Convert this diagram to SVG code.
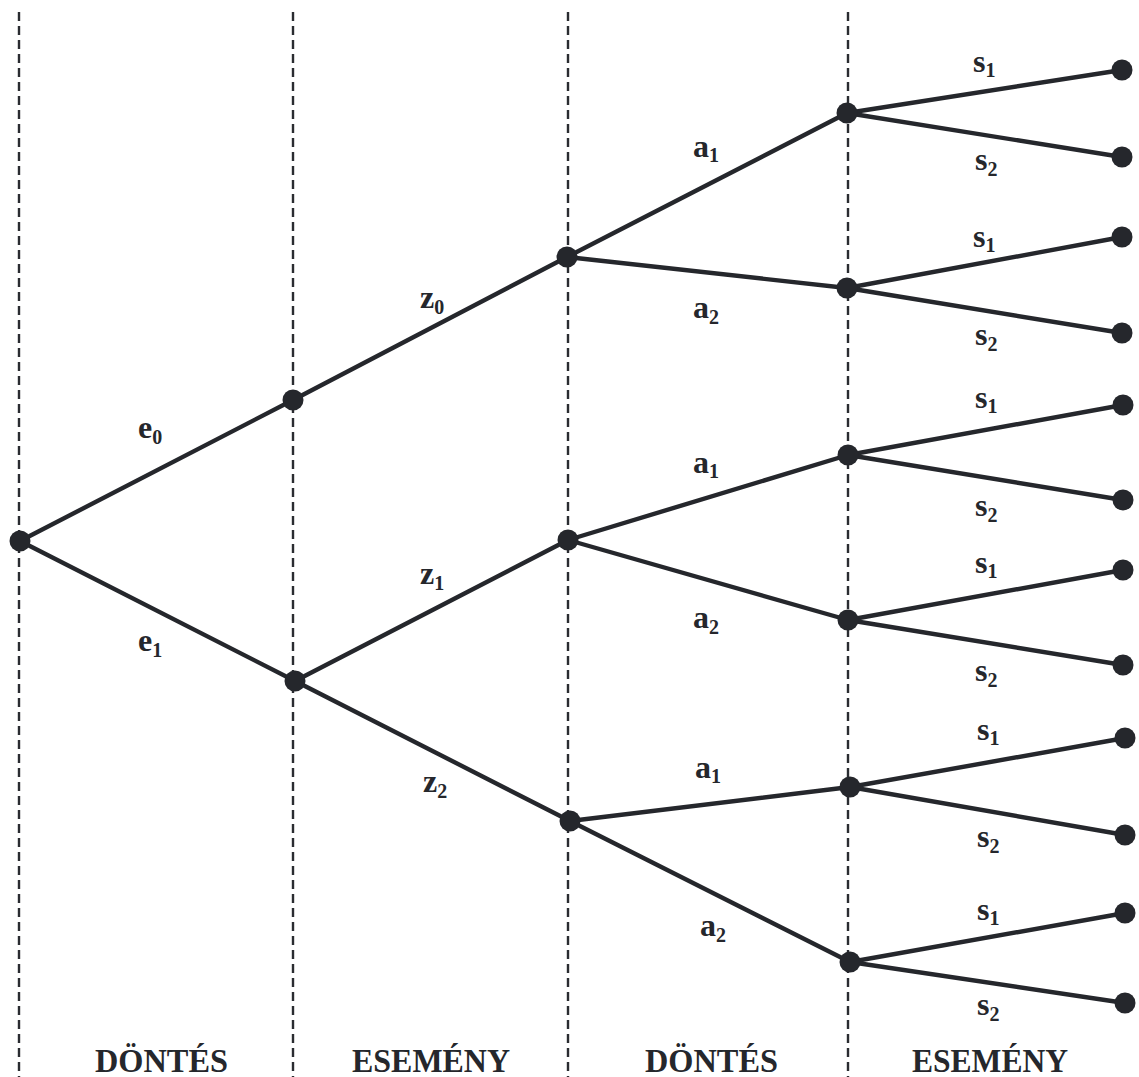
<svg xmlns="http://www.w3.org/2000/svg" width="1139" height="1077" viewBox="0 0 1139 1077">
<style>
.grid{stroke:#2a2c31;stroke-width:2.4;stroke-dasharray:9,5;fill:none}
.edge{stroke:#25272c;stroke-width:4.4;fill:none;stroke-linecap:round}
.node{fill:#25272c}
.lbl{font-family:"Liberation Serif",serif;font-weight:bold;font-size:32px;fill:#25272c}
.sub{font-size:20px}
.head{font-family:"Liberation Serif",serif;font-weight:bold;font-size:33px;fill:#25272c}
</style>
<rect width="1139" height="1077" fill="#fff"/>
<g id="grid">
<line class="grid" x1="19" y1="12" x2="19" y2="1077"/>
<line class="grid" x1="293" y1="12" x2="293" y2="1077"/>
<line class="grid" x1="568" y1="12" x2="568" y2="1077"/>
<line class="grid" x1="848" y1="12" x2="848" y2="1077"/>
</g>
<g id="connectors">
<line class="edge" x1="20" y1="541" x2="293" y2="400"/>
<line class="edge" x1="20" y1="541" x2="295" y2="681"/>
<line class="edge" x1="293" y1="400" x2="567" y2="257"/>
<line class="edge" x1="295" y1="681" x2="568" y2="540"/>
<line class="edge" x1="295" y1="681" x2="570" y2="821"/>
<line class="edge" x1="567" y1="257" x2="847" y2="113"/>
<line class="edge" x1="567" y1="257" x2="847" y2="288"/>
<line class="edge" x1="568" y1="540" x2="848" y2="455"/>
<line class="edge" x1="568" y1="540" x2="848" y2="620"/>
<line class="edge" x1="570" y1="821" x2="850" y2="787"/>
<line class="edge" x1="570" y1="821" x2="850" y2="962"/>
<line class="edge" x1="847" y1="113" x2="1122" y2="70"/>
<line class="edge" x1="847" y1="113" x2="1122" y2="157"/>
<line class="edge" x1="847" y1="288" x2="1122" y2="237"/>
<line class="edge" x1="847" y1="288" x2="1122" y2="333"/>
<line class="edge" x1="848" y1="455" x2="1123" y2="405"/>
<line class="edge" x1="848" y1="455" x2="1123" y2="500"/>
<line class="edge" x1="848" y1="620" x2="1123" y2="570"/>
<line class="edge" x1="848" y1="620" x2="1123" y2="665"/>
<line class="edge" x1="850" y1="787" x2="1125" y2="738"/>
<line class="edge" x1="850" y1="787" x2="1125" y2="835"/>
<line class="edge" x1="850" y1="962" x2="1125" y2="913"/>
<line class="edge" x1="850" y1="962" x2="1125" y2="1003"/>
</g>
<g id="nodes">
<circle id="n0" class="node" cx="20" cy="541" r="10.5"/>
<circle id="n1" class="node" cx="293" cy="400" r="10.5"/>
<circle id="n2" class="node" cx="295" cy="681" r="10.5"/>
<circle id="n3" class="node" cx="567" cy="257" r="10.5"/>
<circle id="n4" class="node" cx="568" cy="540" r="10.5"/>
<circle id="n5" class="node" cx="570" cy="821" r="10.5"/>
<circle id="n6" class="node" cx="847" cy="113" r="10.5"/>
<circle id="n7" class="node" cx="847" cy="288" r="10.5"/>
<circle id="n8" class="node" cx="848" cy="455" r="10.5"/>
<circle id="n9" class="node" cx="848" cy="620" r="10.5"/>
<circle id="n10" class="node" cx="850" cy="787" r="10.5"/>
<circle id="n11" class="node" cx="850" cy="962" r="10.5"/>
<circle id="l1" class="node" cx="1122" cy="70" r="10.5"/>
<circle id="l2" class="node" cx="1122" cy="157" r="10.5"/>
<circle id="l3" class="node" cx="1122" cy="237" r="10.5"/>
<circle id="l4" class="node" cx="1122" cy="333" r="10.5"/>
<circle id="l5" class="node" cx="1123" cy="405" r="10.5"/>
<circle id="l6" class="node" cx="1123" cy="500" r="10.5"/>
<circle id="l7" class="node" cx="1123" cy="570" r="10.5"/>
<circle id="l8" class="node" cx="1123" cy="665" r="10.5"/>
<circle id="l9" class="node" cx="1125" cy="738" r="10.5"/>
<circle id="l10" class="node" cx="1125" cy="835" r="10.5"/>
<circle id="l11" class="node" cx="1125" cy="913" r="10.5"/>
<circle id="l12" class="node" cx="1125" cy="1003" r="10.5"/>
</g>
<g id="labels">
<text class="lbl" x="138" y="438">e<tspan class="sub" dy="6">0</tspan></text>
<text class="lbl" x="138" y="651">e<tspan class="sub" dy="6">1</tspan></text>
<text class="lbl" x="420" y="308">z<tspan class="sub" dy="6">0</tspan></text>
<text class="lbl" x="420" y="584">z<tspan class="sub" dy="6">1</tspan></text>
<text class="lbl" x="423" y="792">z<tspan class="sub" dy="6">2</tspan></text>
<text class="lbl" x="693" y="157">a<tspan class="sub" dy="5">1</tspan></text>
<text class="lbl" x="693" y="318">a<tspan class="sub" dy="6">2</tspan></text>
<text class="lbl" x="693" y="473">a<tspan class="sub" dy="5">1</tspan></text>
<text class="lbl" x="693" y="628">a<tspan class="sub" dy="6">2</tspan></text>
<text class="lbl" x="695" y="778">a<tspan class="sub" dy="5">1</tspan></text>
<text class="lbl" x="700" y="936">a<tspan class="sub" dy="6">2</tspan></text>
<text class="lbl" x="973" y="72">s<tspan class="sub" dy="5">1</tspan></text>
<text class="lbl" x="975" y="170">s<tspan class="sub" dy="6">2</tspan></text>
<text class="lbl" x="973" y="247">s<tspan class="sub" dy="5">1</tspan></text>
<text class="lbl" x="975" y="345">s<tspan class="sub" dy="6">2</tspan></text>
<text class="lbl" x="975" y="408">s<tspan class="sub" dy="5">1</tspan></text>
<text class="lbl" x="975" y="516">s<tspan class="sub" dy="6">2</tspan></text>
<text class="lbl" x="975" y="573">s<tspan class="sub" dy="5">1</tspan></text>
<text class="lbl" x="975" y="681">s<tspan class="sub" dy="6">2</tspan></text>
<text class="lbl" x="977" y="740">s<tspan class="sub" dy="5">1</tspan></text>
<text class="lbl" x="977" y="847">s<tspan class="sub" dy="6">2</tspan></text>
<text class="lbl" x="977" y="920">s<tspan class="sub" dy="5">1</tspan></text>
<text class="lbl" x="977" y="1015">s<tspan class="sub" dy="6">2</tspan></text>
</g>
<g id="phases">
<text class="head" x="95" y="1072" textLength="133" lengthAdjust="spacingAndGlyphs">DÖNTÉS</text>
<text class="head" x="352" y="1072" textLength="158" lengthAdjust="spacingAndGlyphs">ESEMÉNY</text>
<text class="head" x="645" y="1072" textLength="133" lengthAdjust="spacingAndGlyphs">DÖNTÉS</text>
<text class="head" x="912" y="1072" textLength="156" lengthAdjust="spacingAndGlyphs">ESEMÉNY</text>
</g>
</svg>
